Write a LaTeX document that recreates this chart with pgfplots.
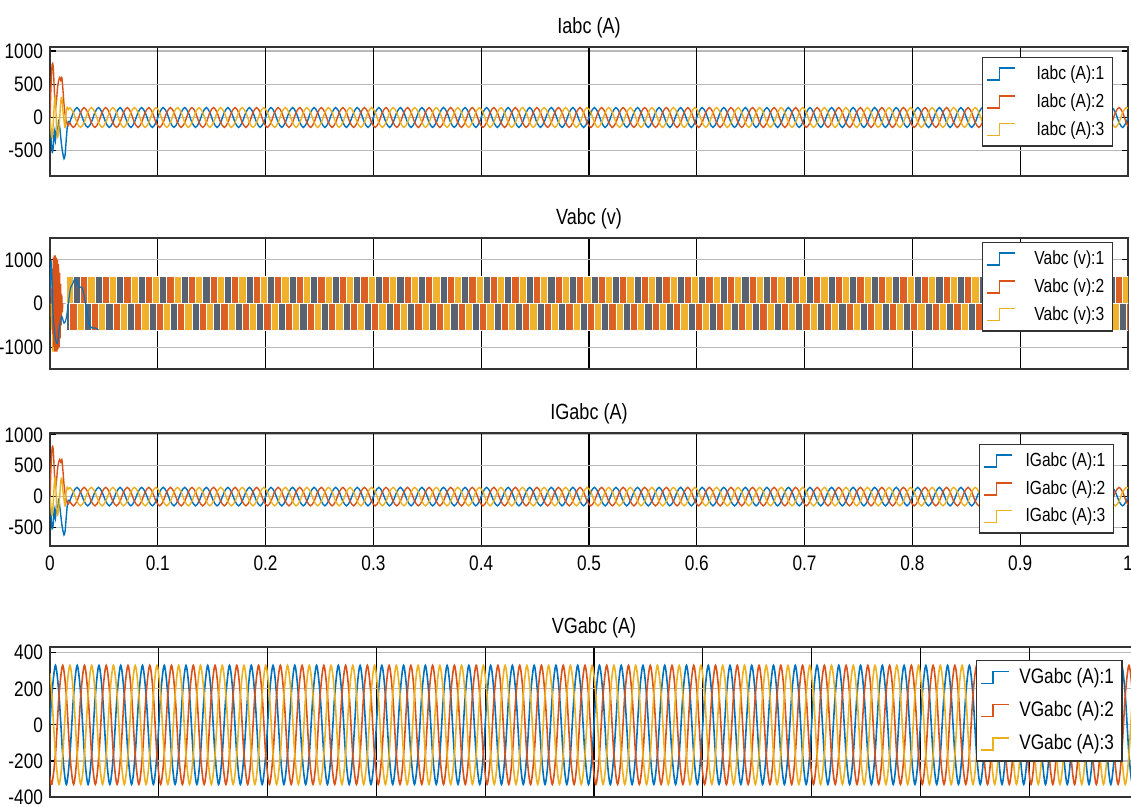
\documentclass[border=0pt]{standalone}
\usepackage{fontspec}
\setmainfont{Liberation Sans}[FakeStretch=0.82]
\usepackage{pgfplots}
\usepackage{pgfplotstable}
\pgfplotsset{compat=1.18}
\definecolor{c1}{RGB}{0,114,189}
\definecolor{c2}{RGB}{217,83,25}
\definecolor{c3}{RGB}{237,177,32}
\definecolor{f1}{RGB}{88,98,112}
\definecolor{f2}{RGB}{220,95,35}
\definecolor{f3}{RGB}{240,178,45}

% transient of Iabc / IGabc
\pgfplotstableread{
t a b c
0 0 0 0
0.001 -300 500 -200
0.002 -520 800 -300
0.003 -450 760 -100
0.004 -200 420 200
0.005 -350 150 300
0.006 -150 250 -100
0.007 -250 450 -300
0.008 -50 550 -200
0.009 -150 600 0
0.010 -300 560 250
0.011 -450 600 300
0.012 -550 420 100
0.013 -620 200 -50
0.014 -560 50 -150
0.015 -350 -50 80
0.016 -150 -100 150
0.017 -60 -120 120
0.0183 -75 -75 150
}\trI

% steady state: I (panels 1,3), V PWM sectors (panel 2), VG (panel 4)
\pgfplotstableread{
t a1 b1 c1 a2 b2 c2 a4 b4 c4
0 0 -130 130 0 0 0 0 -286 286
0.0017 75 -150 75 620 -620 0 165 -330 165
0.005 150 -75 -75 620 0 -620 330 -165 -165
0.0083 75 75 -150 0 620 -620 165 165 -330
0.0117 -75 150 -75 -620 620 0 -165 330 -165
0.015 -150 75 75 -620 0 620 -330 165 165
0.0183 -75 -75 150 0 -620 620 -165 -165 330
0.0217 75 -150 75 620 -620 0 165 -330 165
0.025 150 -75 -75 620 0 -620 330 -165 -165
0.0283 75 75 -150 0 620 -620 165 165 -330
0.0317 -75 150 -75 -620 620 0 -165 330 -165
0.035 -150 75 75 -620 0 620 -330 165 165
0.0383 -75 -75 150 0 -620 620 -165 -165 330
0.0417 75 -150 75 620 -620 0 165 -330 165
0.045 150 -75 -75 620 0 -620 330 -165 -165
0.0483 75 75 -150 0 620 -620 165 165 -330
0.0517 -75 150 -75 -620 620 0 -165 330 -165
0.055 -150 75 75 -620 0 620 -330 165 165
0.0583 -75 -75 150 0 -620 620 -165 -165 330
0.0617 75 -150 75 620 -620 0 165 -330 165
0.065 150 -75 -75 620 0 -620 330 -165 -165
0.0683 75 75 -150 0 620 -620 165 165 -330
0.0717 -75 150 -75 -620 620 0 -165 330 -165
0.075 -150 75 75 -620 0 620 -330 165 165
0.0783 -75 -75 150 0 -620 620 -165 -165 330
0.0817 75 -150 75 620 -620 0 165 -330 165
0.085 150 -75 -75 620 0 -620 330 -165 -165
0.0883 75 75 -150 0 620 -620 165 165 -330
0.0917 -75 150 -75 -620 620 0 -165 330 -165
0.095 -150 75 75 -620 0 620 -330 165 165
0.0983 -75 -75 150 0 -620 620 -165 -165 330
0.1017 75 -150 75 620 -620 0 165 -330 165
0.105 150 -75 -75 620 0 -620 330 -165 -165
0.1083 75 75 -150 0 620 -620 165 165 -330
0.1117 -75 150 -75 -620 620 0 -165 330 -165
0.115 -150 75 75 -620 0 620 -330 165 165
0.1183 -75 -75 150 0 -620 620 -165 -165 330
0.1217 75 -150 75 620 -620 0 165 -330 165
0.125 150 -75 -75 620 0 -620 330 -165 -165
0.1283 75 75 -150 0 620 -620 165 165 -330
0.1317 -75 150 -75 -620 620 0 -165 330 -165
0.135 -150 75 75 -620 0 620 -330 165 165
0.1383 -75 -75 150 0 -620 620 -165 -165 330
0.1417 75 -150 75 620 -620 0 165 -330 165
0.145 150 -75 -75 620 0 -620 330 -165 -165
0.1483 75 75 -150 0 620 -620 165 165 -330
0.1517 -75 150 -75 -620 620 0 -165 330 -165
0.155 -150 75 75 -620 0 620 -330 165 165
0.1583 -75 -75 150 0 -620 620 -165 -165 330
0.1617 75 -150 75 620 -620 0 165 -330 165
0.165 150 -75 -75 620 0 -620 330 -165 -165
0.1683 75 75 -150 0 620 -620 165 165 -330
0.1717 -75 150 -75 -620 620 0 -165 330 -165
0.175 -150 75 75 -620 0 620 -330 165 165
0.1783 -75 -75 150 0 -620 620 -165 -165 330
0.1817 75 -150 75 620 -620 0 165 -330 165
0.185 150 -75 -75 620 0 -620 330 -165 -165
0.1883 75 75 -150 0 620 -620 165 165 -330
0.1917 -75 150 -75 -620 620 0 -165 330 -165
0.195 -150 75 75 -620 0 620 -330 165 165
0.1983 -75 -75 150 0 -620 620 -165 -165 330
0.2017 75 -150 75 620 -620 0 165 -330 165
0.205 150 -75 -75 620 0 -620 330 -165 -165
0.2083 75 75 -150 0 620 -620 165 165 -330
0.2117 -75 150 -75 -620 620 0 -165 330 -165
0.215 -150 75 75 -620 0 620 -330 165 165
0.2183 -75 -75 150 0 -620 620 -165 -165 330
0.2217 75 -150 75 620 -620 0 165 -330 165
0.225 150 -75 -75 620 0 -620 330 -165 -165
0.2283 75 75 -150 0 620 -620 165 165 -330
0.2317 -75 150 -75 -620 620 0 -165 330 -165
0.235 -150 75 75 -620 0 620 -330 165 165
0.2383 -75 -75 150 0 -620 620 -165 -165 330
0.2417 75 -150 75 620 -620 0 165 -330 165
0.245 150 -75 -75 620 0 -620 330 -165 -165
0.2483 75 75 -150 0 620 -620 165 165 -330
0.2517 -75 150 -75 -620 620 0 -165 330 -165
0.255 -150 75 75 -620 0 620 -330 165 165
0.2583 -75 -75 150 0 -620 620 -165 -165 330
0.2617 75 -150 75 620 -620 0 165 -330 165
0.265 150 -75 -75 620 0 -620 330 -165 -165
0.2683 75 75 -150 0 620 -620 165 165 -330
0.2717 -75 150 -75 -620 620 0 -165 330 -165
0.275 -150 75 75 -620 0 620 -330 165 165
0.2783 -75 -75 150 0 -620 620 -165 -165 330
0.2817 75 -150 75 620 -620 0 165 -330 165
0.285 150 -75 -75 620 0 -620 330 -165 -165
0.2883 75 75 -150 0 620 -620 165 165 -330
0.2917 -75 150 -75 -620 620 0 -165 330 -165
0.295 -150 75 75 -620 0 620 -330 165 165
0.2983 -75 -75 150 0 -620 620 -165 -165 330
0.3017 75 -150 75 620 -620 0 165 -330 165
0.305 150 -75 -75 620 0 -620 330 -165 -165
0.3083 75 75 -150 0 620 -620 165 165 -330
0.3117 -75 150 -75 -620 620 0 -165 330 -165
0.315 -150 75 75 -620 0 620 -330 165 165
0.3183 -75 -75 150 0 -620 620 -165 -165 330
0.3217 75 -150 75 620 -620 0 165 -330 165
0.325 150 -75 -75 620 0 -620 330 -165 -165
0.3283 75 75 -150 0 620 -620 165 165 -330
0.3317 -75 150 -75 -620 620 0 -165 330 -165
0.335 -150 75 75 -620 0 620 -330 165 165
0.3383 -75 -75 150 0 -620 620 -165 -165 330
0.3417 75 -150 75 620 -620 0 165 -330 165
0.345 150 -75 -75 620 0 -620 330 -165 -165
0.3483 75 75 -150 0 620 -620 165 165 -330
0.3517 -75 150 -75 -620 620 0 -165 330 -165
0.355 -150 75 75 -620 0 620 -330 165 165
0.3583 -75 -75 150 0 -620 620 -165 -165 330
0.3617 75 -150 75 620 -620 0 165 -330 165
0.365 150 -75 -75 620 0 -620 330 -165 -165
0.3683 75 75 -150 0 620 -620 165 165 -330
0.3717 -75 150 -75 -620 620 0 -165 330 -165
0.375 -150 75 75 -620 0 620 -330 165 165
0.3783 -75 -75 150 0 -620 620 -165 -165 330
0.3817 75 -150 75 620 -620 0 165 -330 165
0.385 150 -75 -75 620 0 -620 330 -165 -165
0.3883 75 75 -150 0 620 -620 165 165 -330
0.3917 -75 150 -75 -620 620 0 -165 330 -165
0.395 -150 75 75 -620 0 620 -330 165 165
0.3983 -75 -75 150 0 -620 620 -165 -165 330
0.4017 75 -150 75 620 -620 0 165 -330 165
0.405 150 -75 -75 620 0 -620 330 -165 -165
0.4083 75 75 -150 0 620 -620 165 165 -330
0.4117 -75 150 -75 -620 620 0 -165 330 -165
0.415 -150 75 75 -620 0 620 -330 165 165
0.4183 -75 -75 150 0 -620 620 -165 -165 330
0.4217 75 -150 75 620 -620 0 165 -330 165
0.425 150 -75 -75 620 0 -620 330 -165 -165
0.4283 75 75 -150 0 620 -620 165 165 -330
0.4317 -75 150 -75 -620 620 0 -165 330 -165
0.435 -150 75 75 -620 0 620 -330 165 165
0.4383 -75 -75 150 0 -620 620 -165 -165 330
0.4417 75 -150 75 620 -620 0 165 -330 165
0.445 150 -75 -75 620 0 -620 330 -165 -165
0.4483 75 75 -150 0 620 -620 165 165 -330
0.4517 -75 150 -75 -620 620 0 -165 330 -165
0.455 -150 75 75 -620 0 620 -330 165 165
0.4583 -75 -75 150 0 -620 620 -165 -165 330
0.4617 75 -150 75 620 -620 0 165 -330 165
0.465 150 -75 -75 620 0 -620 330 -165 -165
0.4683 75 75 -150 0 620 -620 165 165 -330
0.4717 -75 150 -75 -620 620 0 -165 330 -165
0.475 -150 75 75 -620 0 620 -330 165 165
0.4783 -75 -75 150 0 -620 620 -165 -165 330
0.4817 75 -150 75 620 -620 0 165 -330 165
0.485 150 -75 -75 620 0 -620 330 -165 -165
0.4883 75 75 -150 0 620 -620 165 165 -330
0.4917 -75 150 -75 -620 620 0 -165 330 -165
0.495 -150 75 75 -620 0 620 -330 165 165
0.4983 -75 -75 150 0 -620 620 -165 -165 330
0.5017 75 -150 75 620 -620 0 165 -330 165
0.505 150 -75 -75 620 0 -620 330 -165 -165
0.5083 75 75 -150 0 620 -620 165 165 -330
0.5117 -75 150 -75 -620 620 0 -165 330 -165
0.515 -150 75 75 -620 0 620 -330 165 165
0.5183 -75 -75 150 0 -620 620 -165 -165 330
0.5217 75 -150 75 620 -620 0 165 -330 165
0.525 150 -75 -75 620 0 -620 330 -165 -165
0.5283 75 75 -150 0 620 -620 165 165 -330
0.5317 -75 150 -75 -620 620 0 -165 330 -165
0.535 -150 75 75 -620 0 620 -330 165 165
0.5383 -75 -75 150 0 -620 620 -165 -165 330
0.5417 75 -150 75 620 -620 0 165 -330 165
0.545 150 -75 -75 620 0 -620 330 -165 -165
0.5483 75 75 -150 0 620 -620 165 165 -330
0.5517 -75 150 -75 -620 620 0 -165 330 -165
0.555 -150 75 75 -620 0 620 -330 165 165
0.5583 -75 -75 150 0 -620 620 -165 -165 330
0.5617 75 -150 75 620 -620 0 165 -330 165
0.565 150 -75 -75 620 0 -620 330 -165 -165
0.5683 75 75 -150 0 620 -620 165 165 -330
0.5717 -75 150 -75 -620 620 0 -165 330 -165
0.575 -150 75 75 -620 0 620 -330 165 165
0.5783 -75 -75 150 0 -620 620 -165 -165 330
0.5817 75 -150 75 620 -620 0 165 -330 165
0.585 150 -75 -75 620 0 -620 330 -165 -165
0.5883 75 75 -150 0 620 -620 165 165 -330
0.5917 -75 150 -75 -620 620 0 -165 330 -165
0.595 -150 75 75 -620 0 620 -330 165 165
0.5983 -75 -75 150 0 -620 620 -165 -165 330
0.6017 75 -150 75 620 -620 0 165 -330 165
0.605 150 -75 -75 620 0 -620 330 -165 -165
0.6083 75 75 -150 0 620 -620 165 165 -330
0.6117 -75 150 -75 -620 620 0 -165 330 -165
0.615 -150 75 75 -620 0 620 -330 165 165
0.6183 -75 -75 150 0 -620 620 -165 -165 330
0.6217 75 -150 75 620 -620 0 165 -330 165
0.625 150 -75 -75 620 0 -620 330 -165 -165
0.6283 75 75 -150 0 620 -620 165 165 -330
0.6317 -75 150 -75 -620 620 0 -165 330 -165
0.635 -150 75 75 -620 0 620 -330 165 165
0.6383 -75 -75 150 0 -620 620 -165 -165 330
0.6417 75 -150 75 620 -620 0 165 -330 165
0.645 150 -75 -75 620 0 -620 330 -165 -165
0.6483 75 75 -150 0 620 -620 165 165 -330
0.6517 -75 150 -75 -620 620 0 -165 330 -165
0.655 -150 75 75 -620 0 620 -330 165 165
0.6583 -75 -75 150 0 -620 620 -165 -165 330
0.6617 75 -150 75 620 -620 0 165 -330 165
0.665 150 -75 -75 620 0 -620 330 -165 -165
0.6683 75 75 -150 0 620 -620 165 165 -330
0.6717 -75 150 -75 -620 620 0 -165 330 -165
0.675 -150 75 75 -620 0 620 -330 165 165
0.6783 -75 -75 150 0 -620 620 -165 -165 330
0.6817 75 -150 75 620 -620 0 165 -330 165
0.685 150 -75 -75 620 0 -620 330 -165 -165
0.6883 75 75 -150 0 620 -620 165 165 -330
0.6917 -75 150 -75 -620 620 0 -165 330 -165
0.695 -150 75 75 -620 0 620 -330 165 165
0.6983 -75 -75 150 0 -620 620 -165 -165 330
0.7017 75 -150 75 620 -620 0 165 -330 165
0.705 150 -75 -75 620 0 -620 330 -165 -165
0.7083 75 75 -150 0 620 -620 165 165 -330
0.7117 -75 150 -75 -620 620 0 -165 330 -165
0.715 -150 75 75 -620 0 620 -330 165 165
0.7183 -75 -75 150 0 -620 620 -165 -165 330
0.7217 75 -150 75 620 -620 0 165 -330 165
0.725 150 -75 -75 620 0 -620 330 -165 -165
0.7283 75 75 -150 0 620 -620 165 165 -330
0.7317 -75 150 -75 -620 620 0 -165 330 -165
0.735 -150 75 75 -620 0 620 -330 165 165
0.7383 -75 -75 150 0 -620 620 -165 -165 330
0.7417 75 -150 75 620 -620 0 165 -330 165
0.745 150 -75 -75 620 0 -620 330 -165 -165
0.7483 75 75 -150 0 620 -620 165 165 -330
0.7517 -75 150 -75 -620 620 0 -165 330 -165
0.755 -150 75 75 -620 0 620 -330 165 165
0.7583 -75 -75 150 0 -620 620 -165 -165 330
0.7617 75 -150 75 620 -620 0 165 -330 165
0.765 150 -75 -75 620 0 -620 330 -165 -165
0.7683 75 75 -150 0 620 -620 165 165 -330
0.7717 -75 150 -75 -620 620 0 -165 330 -165
0.775 -150 75 75 -620 0 620 -330 165 165
0.7783 -75 -75 150 0 -620 620 -165 -165 330
0.7817 75 -150 75 620 -620 0 165 -330 165
0.785 150 -75 -75 620 0 -620 330 -165 -165
0.7883 75 75 -150 0 620 -620 165 165 -330
0.7917 -75 150 -75 -620 620 0 -165 330 -165
0.795 -150 75 75 -620 0 620 -330 165 165
0.7983 -75 -75 150 0 -620 620 -165 -165 330
0.8017 75 -150 75 620 -620 0 165 -330 165
0.805 150 -75 -75 620 0 -620 330 -165 -165
0.8083 75 75 -150 0 620 -620 165 165 -330
0.8117 -75 150 -75 -620 620 0 -165 330 -165
0.815 -150 75 75 -620 0 620 -330 165 165
0.8183 -75 -75 150 0 -620 620 -165 -165 330
0.8217 75 -150 75 620 -620 0 165 -330 165
0.825 150 -75 -75 620 0 -620 330 -165 -165
0.8283 75 75 -150 0 620 -620 165 165 -330
0.8317 -75 150 -75 -620 620 0 -165 330 -165
0.835 -150 75 75 -620 0 620 -330 165 165
0.8383 -75 -75 150 0 -620 620 -165 -165 330
0.8417 75 -150 75 620 -620 0 165 -330 165
0.845 150 -75 -75 620 0 -620 330 -165 -165
0.8483 75 75 -150 0 620 -620 165 165 -330
0.8517 -75 150 -75 -620 620 0 -165 330 -165
0.855 -150 75 75 -620 0 620 -330 165 165
0.8583 -75 -75 150 0 -620 620 -165 -165 330
0.8617 75 -150 75 620 -620 0 165 -330 165
0.865 150 -75 -75 620 0 -620 330 -165 -165
0.8683 75 75 -150 0 620 -620 165 165 -330
0.8717 -75 150 -75 -620 620 0 -165 330 -165
0.875 -150 75 75 -620 0 620 -330 165 165
0.8783 -75 -75 150 0 -620 620 -165 -165 330
0.8817 75 -150 75 620 -620 0 165 -330 165
0.885 150 -75 -75 620 0 -620 330 -165 -165
0.8883 75 75 -150 0 620 -620 165 165 -330
0.8917 -75 150 -75 -620 620 0 -165 330 -165
0.895 -150 75 75 -620 0 620 -330 165 165
0.8983 -75 -75 150 0 -620 620 -165 -165 330
0.9017 75 -150 75 620 -620 0 165 -330 165
0.905 150 -75 -75 620 0 -620 330 -165 -165
0.9083 75 75 -150 0 620 -620 165 165 -330
0.9117 -75 150 -75 -620 620 0 -165 330 -165
0.915 -150 75 75 -620 0 620 -330 165 165
0.9183 -75 -75 150 0 -620 620 -165 -165 330
0.9217 75 -150 75 620 -620 0 165 -330 165
0.925 150 -75 -75 620 0 -620 330 -165 -165
0.9283 75 75 -150 0 620 -620 165 165 -330
0.9317 -75 150 -75 -620 620 0 -165 330 -165
0.935 -150 75 75 -620 0 620 -330 165 165
0.9383 -75 -75 150 0 -620 620 -165 -165 330
0.9417 75 -150 75 620 -620 0 165 -330 165
0.945 150 -75 -75 620 0 -620 330 -165 -165
0.9483 75 75 -150 0 620 -620 165 165 -330
0.9517 -75 150 -75 -620 620 0 -165 330 -165
0.955 -150 75 75 -620 0 620 -330 165 165
0.9583 -75 -75 150 0 -620 620 -165 -165 330
0.9617 75 -150 75 620 -620 0 165 -330 165
0.965 150 -75 -75 620 0 -620 330 -165 -165
0.9683 75 75 -150 0 620 -620 165 165 -330
0.9717 -75 150 -75 -620 620 0 -165 330 -165
0.975 -150 75 75 -620 0 620 -330 165 165
0.9783 -75 -75 150 0 -620 620 -165 -165 330
0.9817 75 -150 75 620 -620 0 165 -330 165
0.985 150 -75 -75 620 0 -620 330 -165 -165
0.9883 75 75 -150 0 620 -620 165 165 -330
0.9917 -75 150 -75 -620 620 0 -165 330 -165
0.995 -150 75 75 -620 0 620 -330 165 165
0.9983 -75 -75 150 0 -620 620 -165 -165 330
1 0 -130 130 0 0 0 0 -286 286
}\wave

\pgfplotsset{
  panel/.style={
    scale only axis, width=539pt, xmin=0, xmax=1,
    xtick={0,0.1,0.2,0.3,0.4,0.5,0.6,0.7,0.8,0.9,1},
    xticklabels={},
    xmajorgrids, ymajorgrids,
    x grid style={black, line width=0.6pt},
    y grid style={gray!55, line width=0.6pt},
    axis line style={black!80, line width=0.9pt},
    tick style={black, line width=0.6pt}, tick align=inside, major tick length=3pt,
    tick label style={font=\fontsize{10.5}{12}\selectfont},
    xticklabel style={yshift=-1.5pt},
    /pgf/number format/assume math mode=true,
    /pgf/number format/1000 sep={},
    scaled y ticks=false,
    title style={font=\fontsize{11}{13}\selectfont, at={(0.5,1)}, anchor=base, yshift=0.5pt},
    legend cell align=right,
    legend style={font=\fontsize{9.5}{11}\selectfont, draw=black!80, line width=0.7pt,
      fill=white, inner sep=2pt, row sep=1.5pt, anchor=north east},
    legend image code/.code={\draw[#1, line width=0.8pt] (0pt,-3pt) -- (6pt,-3pt) -- (6pt,3pt) -- (14pt,3pt);},
    every axis plot/.append style={line width=0.7pt},
  },
}

\begin{document}
\begin{tikzpicture}
\useasboundingbox (0,0) rectangle (565.5pt,-403.5pt);
\clip (0,0) rectangle (565.5pt,-403.5pt);

% ---------- Panel 1: Iabc ----------
\begin{axis}[panel, at={(25pt,-23.5pt)}, anchor=north west, height=64.5pt,
  ymin=-880, ymax=1060, ytick={-500,0,500,1000}, title={Iabc (A)},
  legend style={at={(0.986,0.922)}}]
\addplot[c1, smooth, forget plot] table[x=t, y=a] {\trI};
\addplot[c1, smooth, forget plot, skip coords between index={0}{6}] table[x=t, y=a1] {\wave};
\addplot[c2, smooth, forget plot] table[x=t, y=b] {\trI};
\addplot[c2, smooth, forget plot, skip coords between index={0}{6}] table[x=t, y=b1] {\wave};
\addplot[c3, smooth, forget plot] table[x=t, y=c] {\trI};
\addplot[c3, smooth, forget plot, skip coords between index={0}{6}] table[x=t, y=c1] {\wave};
\addlegendimage{c1}\addlegendentry{\makebox[42pt][r]{Iabc (A):1}}
\addlegendimage{c2}\addlegendentry{\makebox[42pt][r]{Iabc (A):2}}
\addlegendimage{c3}\addlegendentry{\makebox[42pt][r]{Iabc (A):3}}
\end{axis}

% ---------- Panel 2: Vabc ----------
\begin{axis}[panel, at={(25pt,-119pt)}, anchor=north west, height=65.5pt,
  ymin=-1500, ymax=1500, ytick={-1000,0,1000}, title={Vabc (v)},
  legend style={at={(0.986,0.969)}}]
\addplot[const plot, fill=f1, draw=white, line width=0.3pt, forget plot, skip coords between index={0}{5}] table[x=t, y=a2] {\wave} \closedcycle;
\addplot[const plot, fill=f2, draw=white, line width=0.3pt, forget plot, skip coords between index={0}{5}] table[x=t, y=b2] {\wave} \closedcycle;
\addplot[const plot, fill=f3, draw=white, line width=0.3pt, forget plot, skip coords between index={0}{5}] table[x=t, y=c2] {\wave} \closedcycle;
\addplot[c3, line width=0.6pt, forget plot] coordinates {(0.001,0) (0.0015,-600) (0.002,300) (0.0025,-1100) (0.003,500) (0.0035,-1100) (0.004,200) (0.0045,-900) (0.005,0)};
\addplot[c2, line width=0.6pt, forget plot] coordinates {(0.0015,0) (0.002,800) (0.0025,-700) (0.003,1050) (0.0035,-1000) (0.004,1100) (0.0045,-1100) (0.005,1100) (0.0055,-1100) (0.006,1050) (0.0065,-1100) (0.007,1000) (0.0075,-1050) (0.008,900) (0.0085,-1000) (0.009,700) (0.0095,-800) (0.010,450) (0.0105,-500) (0.011,200) (0.0115,-200) (0.012,0)};
\addplot[c1, line width=0.6pt, forget plot, smooth] coordinates {(0,0) (0.001,950) (0.002,500) (0.003,-300) (0.005,-800) (0.007,-900) (0.009,-500) (0.011,-300) (0.013,-450) (0.015,-350) (0.017,0) (0.019,350) (0.021,450) (0.023,560) (0.025,500) (0.027,380) (0.030,350) (0.033,0) (0.036,-450) (0.039,-560) (0.042,-560) (0.045,-600)};
\addlegendimage{c1}\addlegendentry{\makebox[42pt][r]{Vabc (v):1}}
\addlegendimage{c2}\addlegendentry{\makebox[42pt][r]{Vabc (v):2}}
\addlegendimage{c3}\addlegendentry{\makebox[42pt][r]{Vabc (v):3}}
\end{axis}

% ---------- Panel 3: IGabc ----------
\begin{axis}[panel, at={(25pt,-216.5pt)}, anchor=north west, height=56.5pt,
  ymin=-800, ymax=1030, ytick={-500,0,500,1000}, title={IGabc (A)},
  xticklabels={0,0.1,0.2,0.3,0.4,0.5,0.6,0.7,0.8,0.9,1},
  legend style={at={(0.987,0.903)}}]
\addplot[c1, smooth, forget plot] table[x=t, y=a] {\trI};
\addplot[c1, smooth, forget plot, skip coords between index={0}{6}] table[x=t, y=a1] {\wave};
\addplot[c2, smooth, forget plot] table[x=t, y=b] {\trI};
\addplot[c2, smooth, forget plot, skip coords between index={0}{6}] table[x=t, y=b1] {\wave};
\addplot[c3, smooth, forget plot] table[x=t, y=c] {\trI};
\addplot[c3, smooth, forget plot, skip coords between index={0}{6}] table[x=t, y=c1] {\wave};
\addlegendimage{c1}\addlegendentry{\makebox[44pt][r]{IGabc (A):1}}
\addlegendimage{c2}\addlegendentry{\makebox[44pt][r]{IGabc (A):2}}
\addlegendimage{c3}\addlegendentry{\makebox[44pt][r]{IGabc (A):3}}
\end{axis}

% ---------- Panel 4: VGabc ----------
\begin{axis}[panel, at={(25pt,-323.5pt)}, anchor=north west, width=544pt, height=75pt,
  ymin=-400, ymax=432, ytick={-400,-200,0,200,400}, title={VGabc (A)},
  legend style={at={(0.986,0.916)}, font=\fontsize{10.5}{12}\selectfont, row sep=3.5pt}]
\addplot[c1, smooth, forget plot, line width=0.8pt] table[x=t, y=a4] {\wave};
\addplot[c2, smooth, forget plot, line width=0.8pt] table[x=t, y=b4] {\wave};
\addplot[c3, smooth, forget plot, line width=0.8pt] table[x=t, y=c4] {\wave};
\addlegendimage{c1}\addlegendentry{\makebox[50pt][r]{VGabc (A):1}}
\addlegendimage{c2}\addlegendentry{\makebox[50pt][r]{VGabc (A):2}}
\addlegendimage{c3}\addlegendentry{\makebox[50pt][r]{VGabc (A):3}}
\end{axis}
\end{tikzpicture}
\end{document}
